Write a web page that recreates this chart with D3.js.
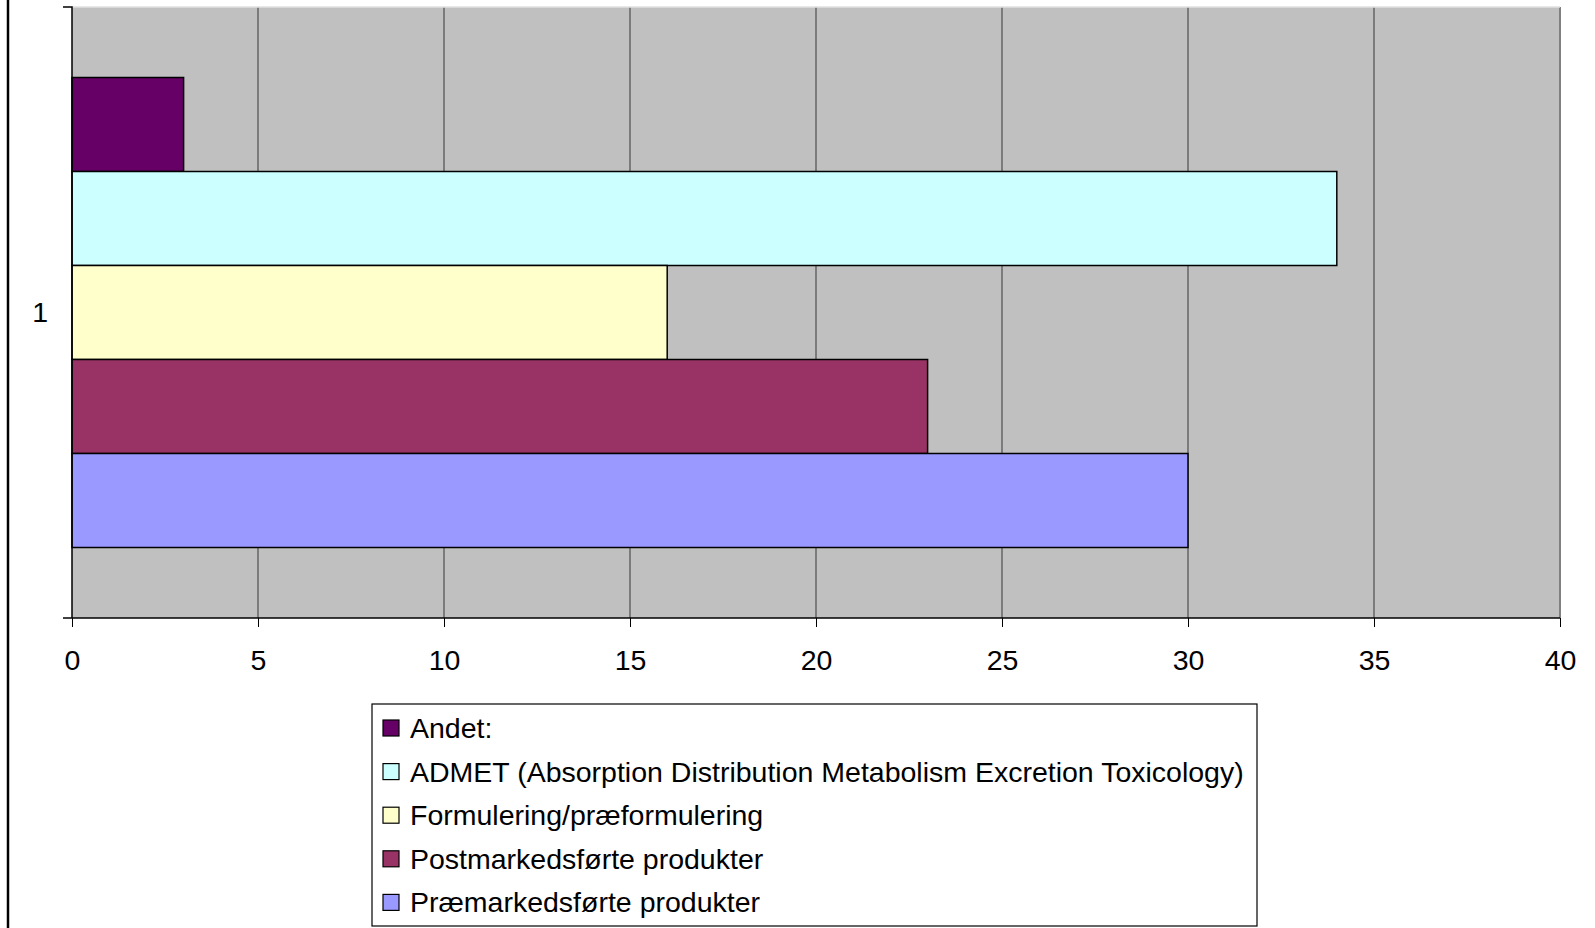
<!DOCTYPE html>
<html>
<head>
<meta charset="utf-8">
<script src="https://cdn.jsdelivr.net/npm/d3@7"></script>
<style>
  body { margin: 0; background: #fff; }
  svg { display: block; font-family: "Liberation Sans", Arial, sans-serif; }
</style>
</head>
<body>
<svg width="1595" height="928"></svg>
<script>
// data
var categories = ["1"];
var seriesNames = [
    "Andet:",
    "ADMET (Absorption Distribution Metabolism Excretion Toxicology)",
    "Formulering/præformulering",
    "Postmarkedsførte produkter",
    "Præmarkedsførte produkter"
];
var seriesValues = [3, 34, 16, 23, 30];
var seriesColors = ["#660066", "#ccffff", "#ffffcc", "#993366", "#9999ff"];
var xTicks = [0, 5, 10, 15, 20, 25, 30, 35, 40];

var svg = d3.select("svg");

var plot = {left: 72, top: 7, right: 1560, bottom: 618};
var fontSize = "28.5px";

// left frame edge
svg.append("line")
    .attr("x1", 8).attr("x2", 8)
    .attr("y1", 0).attr("y2", 928)
    .attr("stroke", "#000")
    .attr("stroke-width", 2.5);

var x = d3.scaleLinear()
    .domain([0, 40])
    .range([plot.left, plot.right]);

var y = d3.scaleBand()
    .domain(categories)
    .range([plot.top, plot.bottom]);

// series inside the category band, gap width 30%
var groupH = y.bandwidth() / 1.3;
var inner = d3.scaleBand()
    .domain(seriesNames)
    .range([(y.bandwidth() - groupH) / 2, (y.bandwidth() + groupH) / 2]);

// plot background
svg.append("rect")
    .attr("x", plot.left).attr("y", plot.top)
    .attr("width", plot.right - plot.left)
    .attr("height", plot.bottom - plot.top)
    .attr("fill", "#c0c0c0");

// gridlines
svg.append("g")
    .selectAll("line")
    .data(xTicks.slice(1))
    .enter()
    .append("line")
    .attr("x1", function (d) { return x(d); })
    .attr("x2", function (d) { return x(d); })
    .attr("y1", plot.top)
    .attr("y2", plot.bottom)
    .attr("stroke", function (d) { return d == 40 ? "#808080" : "#4d4d4d"; })
    .attr("stroke-width", function (d) { return d == 40 ? 2 : 1.2; });

// top edge of plot area
svg.append("line")
    .attr("x1", plot.left).attr("x2", plot.right)
    .attr("y1", plot.top).attr("y2", plot.top)
    .attr("stroke", "#e0e0e0")
    .attr("stroke-width", 1.5);

// bars
svg.append("g")
    .selectAll("rect")
    .data(seriesValues)
    .enter()
    .append("rect")
    .attr("x", x(0))
    .attr("y", function (d, i) { return y(categories[0]) + inner(seriesNames[i]); })
    .attr("width", function (d) { return x(d) - x(0); })
    .attr("height", inner.bandwidth())
    .attr("fill", function (d, i) { return seriesColors[i]; })
    .attr("stroke", "#000")
    .attr("stroke-width", 1.5);

// x axis
var xAxis = svg.append("g")
    .attr("transform", "translate(0," + plot.bottom + ")")
    .call(d3.axisBottom(x).tickValues(xTicks).tickSize(9).tickPadding(23));
xAxis.select(".domain").attr("stroke", "#000").attr("stroke-width", 1.5)
    .attr("d", "M" + (plot.left - 9) + ",0H" + plot.right);
xAxis.selectAll(".tick line").attr("stroke", "#000");
xAxis.selectAll("text")
    .attr("fill", "#000")
    .style("font-size", fontSize);

// y axis
var yAxis = svg.append("g")
    .attr("transform", "translate(" + plot.left + ",0)")
    .call(d3.axisLeft(y).tickSize(0).tickPadding(24));
yAxis.select(".domain").attr("stroke", "#000").attr("stroke-width", 1.5)
    .attr("d", "M-9," + plot.top + "H0V" + plot.bottom);
yAxis.selectAll("text")
    .attr("fill", "#000")
    .style("font-size", fontSize);

// legend
var legend = svg.append("g").attr("transform", "translate(372,704)");
legend.append("rect")
    .attr("width", 885).attr("height", 222)
    .attr("fill", "#fff")
    .attr("stroke", "#000")
    .attr("stroke-width", 1.2);

var item = legend.selectAll(".item")
    .data(seriesNames)
    .enter()
    .append("g")
    .attr("class", "item")
    .attr("transform", function (d, i) { return "translate(0," + (24 + i * 43.6) + ")"; });

item.append("rect")
    .attr("x", 11).attr("y", -8)
    .attr("width", 16).attr("height", 16)
    .attr("fill", function (d, i) { return seriesColors[i]; })
    .attr("stroke", "#000")
    .attr("stroke-width", 1.2);

item.append("text")
    .attr("x", 38)
    .attr("dy", "0.35em")
    .style("font-size", fontSize)
    .text(function (d) { return d; });
</script>
</body>
</html>
